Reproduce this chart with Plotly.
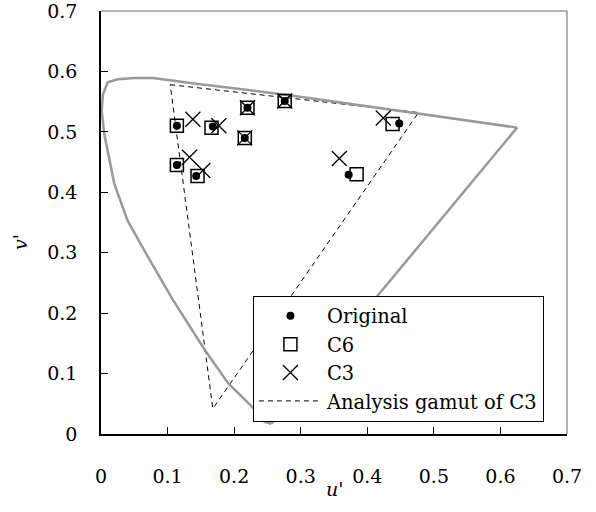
import plotly.graph_objects as go

# Spectral locus (u', v'), closed with the purple line
locus_u = [0.256, 0.246, 0.227, 0.191, 0.156, 0.108, 0.068, 0.040, 0.020, 0.005, 0.001,
           0.003, 0.010, 0.025, 0.050, 0.078, 0.140, 0.173, 0.230, 0.299, 0.370, 0.450,
           0.510, 0.585, 0.625, 0.256]
locus_v = [0.017, 0.020, 0.045, 0.084, 0.139, 0.222, 0.298, 0.353, 0.414, 0.496, 0.535,
           0.562, 0.582, 0.587, 0.589, 0.589, 0.580, 0.576, 0.568, 0.558, 0.547, 0.535,
           0.525, 0.514, 0.507, 0.017]

# Analysis gamut of C3 (triangle)
gamut_u = [0.104, 0.477, 0.168, 0.104]
gamut_v = [0.578, 0.532, 0.042, 0.578]

orig_u = [0.114, 0.168, 0.220, 0.276, 0.216, 0.114, 0.143, 0.448, 0.372]
orig_v = [0.510, 0.509, 0.540, 0.551, 0.490, 0.445, 0.427, 0.514, 0.429]

c6_u = [0.114, 0.166, 0.220, 0.276, 0.216, 0.114, 0.145, 0.438, 0.384]
c6_v = [0.510, 0.507, 0.540, 0.551, 0.490, 0.445, 0.427, 0.513, 0.430]

c3_u = [0.138, 0.177, 0.220, 0.276, 0.216, 0.133, 0.153, 0.424, 0.358]
c3_v = [0.521, 0.510, 0.540, 0.551, 0.490, 0.458, 0.436, 0.523, 0.456]

tick_vals = [0, 0.1, 0.2, 0.3, 0.4, 0.5, 0.6, 0.7]
tick_text = ["0", "0.1", "0.2", "0.3", "0.4", "0.5", "0.6", "0.7"]

FONT = "DejaVu Serif"
FS = 19
RANGE = [0, 0.7]

fig = go.Figure()
fig.add_trace(go.Scatter(x=gamut_u, y=gamut_v, mode="lines", name="Analysis gamut of C3",
                         line=dict(color="black", width=1, dash="5px,4px"), legendrank=4))
fig.add_trace(go.Scatter(x=locus_u, y=locus_v, mode="lines", showlegend=False,
                         line=dict(color="#999999", width=2.5)))
fig.add_trace(go.Scatter(x=c6_u, y=c6_v, mode="markers", name="C6", legendrank=2,
                         marker=dict(symbol="square-open", size=13, color="black",
                                     line=dict(width=1.5, color="black"))))
fig.add_trace(go.Scatter(x=orig_u, y=orig_v, mode="markers", name="Original", legendrank=1,
                         marker=dict(symbol="circle", size=8, color="black")))
fig.add_trace(go.Scatter(x=c3_u, y=c3_v, mode="markers", name="C3", legendrank=3,
                         marker=dict(symbol="x-thin-open", size=15, color="black",
                                     line=dict(width=1.3, color="black"))))

axis_common = dict(range=RANGE, tickvals=tick_vals, ticktext=tick_text,
                   ticks="inside", ticklen=7, tickwidth=1, tickcolor="black",
                   showline=True, linecolor="black", linewidth=1.5,
                   showgrid=False, zeroline=False, ticklabeloverflow="allow",
                   tickfont=dict(family=FONT, size=FS, color="black"))

fig.update_layout(
    template="none",
    width=596, height=512,
    margin=dict(l=101, r=29, t=11, b=78),
    paper_bgcolor="white", plot_bgcolor="white",
    font=dict(family=FONT, size=FS, color="black"),
    xaxis=dict(**axis_common, ticklabelstandoff=24),
    yaxis=dict(**axis_common, ticklabelstandoff=18),
    legend=dict(x=0.326, y=0.327, xanchor="left", yanchor="top",
                bgcolor="white", bordercolor="black", borderwidth=1,
                font=dict(family=FONT, size=19.5, color="black"),
                itemwidth=63, tracegroupgap=0),
    shapes=[
        dict(type="line", xref="paper", yref="paper", x0=0, x1=1, y0=1, y1=1,
             layer="above", line=dict(color="#999999", width=1.5)),
        dict(type="line", xref="paper", yref="paper", x0=1, x1=1, y0=0, y1=1,
             layer="above", line=dict(color="#999999", width=1.5)),
    ],
    annotations=[
        dict(text="<i>u'</i>", xref="paper", yref="paper", x=0.5, y=-0.13,
             xanchor="center", yanchor="middle", showarrow=False,
             font=dict(family=FONT, size=FS, color="black")),
        dict(text="<i>v'</i>", xref="paper", yref="paper", x=-0.175, y=0.455,
             xanchor="center", yanchor="middle", showarrow=False, textangle=-90,
             font=dict(family=FONT, size=FS, color="black")),
    ],
)

fig.write_html("out.html")
